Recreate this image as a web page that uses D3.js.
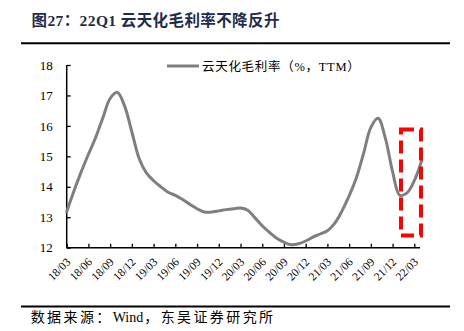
<!DOCTYPE html>
<html>
<head>
<meta charset="utf-8">
<script src="https://cdn.jsdelivr.net/npm/d3@7"></script>
<style>
  html, body { margin: 0; padding: 0; background: #fff; }
  svg { display: block; }
</style>
</head>
<body>
<svg id="chart" width="464" height="331"></svg>
<script>
// Quarter labels on the x axis (one every three months)
const tickLabels = ["18/03","18/06","18/09","18/12","19/03","19/06","19/09","19/12",
  "20/03","20/06","20/09","20/12","21/03","21/06","21/09","21/12","22/03"];

// Monthly TTM gross margin (%), 2018/03 – 2022/04
const months = d3.range(50);
const grossMargin = [
  13.18, 13.86, 14.49, 15.07, 15.62, 16.27, 16.90, 17.10, 16.65, 15.80,
  14.93, 14.46, 14.20, 14.00, 13.82, 13.72, 13.58, 13.43, 13.28, 13.17,
  13.17, 13.21, 13.25, 13.28, 13.30, 13.23, 12.98, 12.72, 12.50, 12.31,
  12.18, 12.10, 12.13, 12.22, 12.35, 12.45, 12.56, 12.80, 13.20, 13.70,
  14.30, 15.10, 15.95, 16.25, 15.60, 14.50, 13.72, 13.80, 14.20, 14.85
];
const yTicks = [12, 13, 14, 15, 16, 17, 18];

const title = "图27：22Q1 云天化毛利率不降反升";
const seriesName = "云天化毛利率（%，TTM）";
// Source line, split so the Latin word keeps normal spacing
const sourceParts = [
  { text: "数据来源：", spacing: 2.4 },
  { text: "Wind", spacing: 0 },
  { text: "，东吴证券研究所", spacing: 2.4 }
];

const svg = d3.select("#chart");
const cjk = "'Liberation Serif', 'Noto Sans CJK SC', serif";

const x = d3.scaleLinear().domain([0, 48]).range([66.7, 414.3]);
const y = d3.scaleLinear().domain([12, 18]).range([247.7, 65]);

// Title and rule
svg.append("text").attr("x", 31.5).attr("y", 26)
  .attr("font-family", cjk).attr("font-size", 15.5).attr("font-weight", "bold")
  .attr("letter-spacing", 0.4)
  .attr("fill", "#1f2d4d").text(title);
svg.append("line").attr("x1", 21).attr("x2", 450).attr("y1", 43.3).attr("y2", 43.3)
  .attr("stroke", "#000").attr("stroke-width", 2);

// Source rule and text
svg.append("line").attr("x1", 21).attr("x2", 450).attr("y1", 306.5).attr("y2", 306.5)
  .attr("stroke", "#000").attr("stroke-width", 2);
svg.append("text").attr("x", 30.7).attr("y", 322)
  .attr("font-family", cjk).attr("font-size", 14).attr("fill", "#000")
  .selectAll("tspan").data(sourceParts).join("tspan")
  .attr("letter-spacing", d => d.spacing)
  .attr("dx", (d, i) => i === 2 ? 1 : 0)
  .text(d => d.text);

// Y axis
const yAxis = svg.append("g").attr("transform", "translate(66.7,0)")
  .call(d3.axisLeft(y).tickValues(yTicks).tickSize(-4).tickPadding(14).tickFormat(d3.format("d")));
yAxis.select(".domain").attr("stroke", "#000").attr("stroke-width", 1.5)
  .attr("d", `M0,${y(18)}V${y(12)}`);
yAxis.selectAll(".tick line").attr("stroke", "#000").attr("stroke-width", 1.3);
yAxis.selectAll("text").attr("font-family", "'Liberation Serif', serif")
  .attr("font-size", 13).attr("fill", "#000");

// X axis
const xAxis = svg.append("g").attr("transform", `translate(0,${y(12)})`)
  .call(d3.axisBottom(x).tickValues(d3.range(0, 49, 3)).tickSize(-4)
    .tickFormat((d, i) => tickLabels[i]));
xAxis.select(".domain").attr("stroke", "#000").attr("stroke-width", 1.5)
  .attr("d", `M${x(0)},0H420`);
xAxis.selectAll(".tick line").attr("stroke", "#000").attr("stroke-width", 1.3);
xAxis.selectAll("text")
  .attr("font-family", "'Liberation Serif', serif").attr("font-size", 11.5).attr("fill", "#000")
  .attr("text-anchor", "end").attr("dy", null).attr("y", null)
  .attr("transform", "translate(4,15) rotate(-45)");

// Series line
const line = d3.line().x((d, i) => x(months[i])).y(d => y(d)).curve(d3.curveCatmullRom.alpha(0.5));
svg.append("path").datum(grossMargin)
  .attr("d", line).attr("fill", "none").attr("stroke", "#7f7f7f")
  .attr("stroke-width", 3).attr("stroke-linecap", "round");

// Legend
svg.append("line").attr("x1", 167).attr("x2", 199).attr("y1", 66).attr("y2", 66)
  .attr("stroke", "#7f7f7f").attr("stroke-width", 3);
svg.append("text").attr("x", 202).attr("y", 70.5)
  .attr("font-family", cjk).attr("font-size", 12.5).attr("letter-spacing", 0.7)
  .attr("fill", "#000").text(seriesName);

// Highlight box around the latest quarter
svg.append("rect").attr("x", 401).attr("y", 129.5).attr("width", 20).attr("height", 106)
  .attr("fill", "none").attr("stroke", "#ff0000").attr("stroke-width", 4)
  .attr("stroke-dasharray", "13,6");
</script>
</body>
</html>
